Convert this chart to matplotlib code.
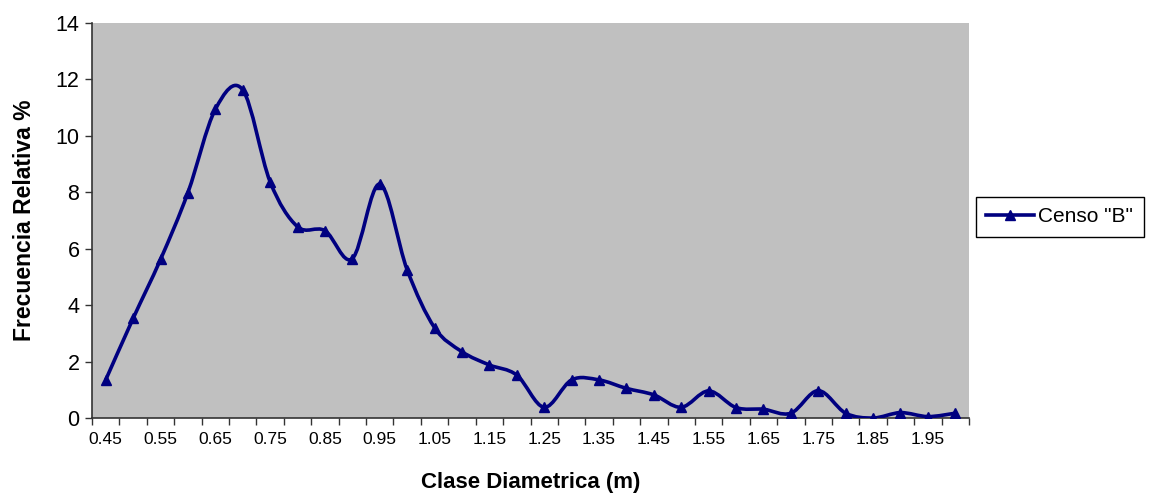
import numpy as np
import matplotlib
matplotlib.use('Agg')
import matplotlib.pyplot as plt
from matplotlib.path import Path
from matplotlib.patches import PathPatch
from matplotlib.lines import Line2D

plt.rcParams['font.family'] = ['Liberation Sans', 'DejaVu Sans']

clases = ['0.45', '0.50', '0.55', '0.60', '0.65', '0.70', '0.75', '0.80',
          '0.85', '0.90', '0.95', '1.00', '1.05', '1.10', '1.15', '1.20',
          '1.25', '1.30', '1.35', '1.40', '1.45', '1.50', '1.55', '1.60',
          '1.65', '1.70', '1.75', '1.80', '1.85', '1.90', '1.95', '2.00']
frecuencia = [1.35, 3.53, 5.62, 7.99, 10.94, 11.63, 8.37, 6.78,
              6.64, 5.65, 8.29, 5.25, 3.2, 2.35, 1.88, 1.52,
              0.38, 1.35, 1.35, 1.05, 0.82, 0.38, 0.96, 0.37,
              0.31, 0.17, 0.97, 0.17, 0.0, 0.19, 0.05, 0.17]

color = '#000080'
x = np.arange(len(clases))
y = np.array(frecuencia)

fig = plt.figure(figsize=(11.52, 4.93), dpi=100)
ax = fig.add_axes([92/1152, 1-418/493, (969-92)/1152, (418-23)/493])
ax.set_facecolor('#C0C0C0')

# smoothed line like Excel (bezier through points)
verts = [(x[0], y[0])]
codes = [Path.MOVETO]
n = len(x)
for i in range(n-1):
    p0 = np.array([x[max(i-1, 0)], y[max(i-1, 0)]])
    p1 = np.array([x[i], y[i]])
    p2 = np.array([x[i+1], y[i+1]])
    p3 = np.array([x[min(i+2, n-1)], y[min(i+2, n-1)]])
    c1 = p1 + (p2 - p0) / 6.0
    c2 = p2 - (p3 - p1) / 6.0
    verts += [tuple(c1), tuple(c2), tuple(p2)]
    codes += [Path.CURVE4] * 3
ax.add_patch(PathPatch(Path(verts, codes), facecolor='none', edgecolor=color,
                       lw=2.6, capstyle='round', joinstyle='round', zorder=3))
ax.plot(x, y, linestyle='none', marker='^', color=color, markersize=7, zorder=4)

ax.set_xlim(-0.5, len(clases) - 0.5)
ax.set_ylim(0, 14)
ax.set_yticks(range(0, 15, 2))
ax.set_xticks(x[::2])
ax.set_xticklabels([f'{float(c) :.2f}' for c in clases[::2]], fontsize=12.5)
ax.set_xticks(np.arange(-0.5, len(clases), 1), minor=True)
ax.tick_params(axis='x', which='major', length=0, pad=10)
ax.tick_params(axis='x', which='minor', length=5, width=1, color='#333333', direction='out')
ax.tick_params(axis='y', labelsize=15.5, length=5, width=1, color='#333333', pad=4)

for s in ['top', 'right']:
    ax.spines[s].set_visible(False)
for s in ['left', 'bottom']:
    ax.spines[s].set_color('#333333')
    ax.spines[s].set_linewidth(1.2)

ax.set_xlabel('Clase Diametrica (m)', fontsize=16, fontweight='bold', labelpad=18)
ax.set_ylabel('Frecuencia Relativa %', fontsize=16.5, fontweight='bold', labelpad=14)

handle = Line2D([], [], color=color, lw=2.6, marker='^', markersize=7)
leg = fig.legend([handle], ['Censo "B"'], loc='center left',
                 bbox_to_anchor=(976/1152, 1-217/493), fontsize=15,
                 fancybox=False, edgecolor='black', framealpha=1,
                 handlelength=2.3, borderpad=0.5, handletextpad=0.2,
                 borderaxespad=0)
leg.get_frame().set_linewidth(1.0)

fig.savefig('out.png', dpi=100)
